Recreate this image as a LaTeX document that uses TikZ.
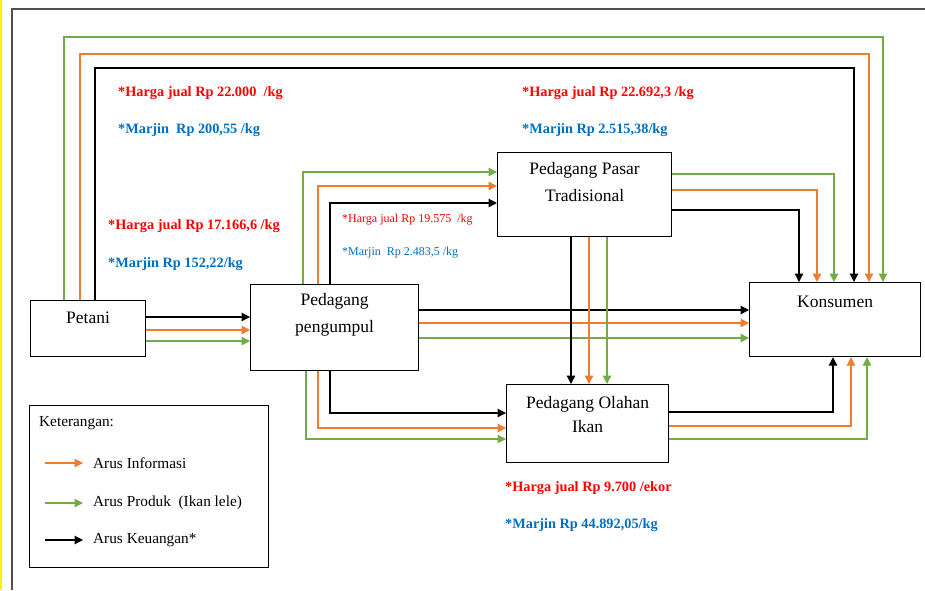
\documentclass[tikz,border=0pt]{standalone}
\usepackage{fontspec}
\setmainfont{Liberation Serif}
\usetikzlibrary{arrows.meta,calc}
\definecolor{lgreen}{RGB}{112,173,71}
\definecolor{lorange}{RGB}{237,125,49}
\definecolor{tred}{RGB}{255,0,0}
\definecolor{tblue}{RGB}{0,112,192}
\definecolor{framegray}{RGB}{80,80,80}
\begin{document}
\begin{tikzpicture}[x=1pt,y=-1pt,
  box/.style={draw=black, line width=1.2pt, anchor=north west, inner sep=0pt},
  boxlbl/.style={anchor=north, align=center, inner sep=0pt, font=\fontsize{17.5}{27}\selectfont},
  flow/.style={line width=1.2pt, -{Triangle[length=8.5pt,width=8.5pt]}},
  gflow/.style={flow, draw=lgreen},
  oflow/.style={flow, draw=lorange},
  kflow/.style={flow, draw=black},
  bigred/.style={anchor=west, inner sep=0pt, text=tred, font=\fontsize{14.3}{16}\selectfont\bfseries},
  bigblue/.style={anchor=west, inner sep=0pt, text=tblue, font=\fontsize{14.3}{16}\selectfont\bfseries},
  smallred/.style={anchor=west, inner sep=0pt, text=tred, font=\fontsize{12}{14}\selectfont},
  smallblue/.style={anchor=west, inner sep=0pt, text=tblue, font=\fontsize{12}{14}\selectfont},
  legtext/.style={anchor=west, inner sep=0pt, font=\fontsize{15.3}{18}\selectfont}
]
\useasboundingbox (0,0) rectangle (925,590);
\fill[white] (0,0) rectangle (925,590);
\fill[yellow] (0,0) rectangle (2,590);
\draw[framegray, line width=2pt] (12,590) -- (12,9) -- (925,9);

% boxes
\node[box, minimum width=115pt, minimum height=56pt] (petani) at (30,300) {};
\node[box, minimum width=168pt, minimum height=86pt] (pengumpul) at (250,284) {};
\node[box, minimum width=174pt, minimum height=84pt] (ppt) at (497,152) {};
\node[box, minimum width=171pt, minimum height=74pt] (kon) at (749,282) {};
\node[box, minimum width=162pt, minimum height=78pt] (olahan) at (506,384) {};
\node[box, minimum width=239pt, minimum height=162pt] (legend) at (29,405) {};

\node[boxlbl] (petanit) at ([yshift=-12pt]petani.north) {Petani};
\node[boxlbl] (pengumpult) at ([yshift=-9pt]pengumpul.north) {Pedagang\\pengumpul};
\node[boxlbl] (pptt) at ([yshift=-10pt]ppt.north) {Pedagang Pasar\\Tradisional};
\node[boxlbl] (kont) at ([yshift=-14pt]kon.north) {Konsumen};
\node[boxlbl, font=\fontsize{17.5}{24}\selectfont] (olahant) at ([yshift=-12pt]olahan.north) {Pedagang Olahan\\Ikan};

% top loops Petani -> Konsumen
\coordinate (pG) at ($(petani.north west)+(34,0)$);
\coordinate (pO) at ($(petani.north west)+(50,0)$);
\coordinate (pK) at ($(petani.north west)+(65,0)$);
\coordinate (kG) at ($(kon.north west)+(134,0)$);
\coordinate (kO) at ($(kon.north west)+(120,0)$);
\coordinate (kK) at ($(kon.north west)+(105,0)$);
\coordinate (yG) at (0,37);
\coordinate (yO) at (0,54);
\coordinate (yK) at (0,68);
\draw[gflow] (pG) -- (pG |- yG) -- (kG |- yG) -- (kG);
\draw[oflow] (pO) -- (pO |- yO) -- (kO |- yO) -- (kO);
\draw[kflow] (pK) -- (pK |- yK) -- (kK |- yK) -- (kK);

% Petani -> Pengumpul
\coordinate (a1) at ($(pengumpul.north west)+(0,33)$);
\coordinate (a2) at ($(pengumpul.north west)+(0,46)$);
\coordinate (a3) at ($(pengumpul.north west)+(0,57)$);
\draw[kflow] (petani.east |- a1) -- (a1);
\draw[oflow] (petani.east |- a2) -- (a2);
\draw[gflow] (petani.east |- a3) -- (a3);

% Pengumpul -> PPT
\draw[gflow] ($(pengumpul.north west)+(53,0)$) |- ($(ppt.north west)+(0,20)$);
\draw[oflow] ($(pengumpul.north west)+(68,0)$) |- ($(ppt.north west)+(0,34)$);
\draw[kflow] ($(pengumpul.north west)+(80,0)$) |- ($(ppt.north west)+(0,51)$);

% Pengumpul -> Konsumen
\coordinate (b1) at ($(kon.north west)+(0,28)$);
\coordinate (b2) at ($(kon.north west)+(0,41)$);
\coordinate (b3) at ($(kon.north west)+(0,56)$);
\draw[kflow] (pengumpul.east |- b1) -- (b1);
\draw[oflow] (pengumpul.east |- b2) -- (b2);
\draw[gflow] (pengumpul.east |- b3) -- (b3);

% Pengumpul -> Olahan
\draw[kflow] ($(pengumpul.south west)+(80,0)$) |- ($(olahan.north west)+(0,29)$);
\draw[oflow] ($(pengumpul.south west)+(68,0)$) |- ($(olahan.north west)+(0,44)$);
\draw[gflow] ($(pengumpul.south west)+(56,0)$) |- ($(olahan.north west)+(0,55)$);

% PPT -> Konsumen
\draw[gflow] ($(ppt.north east)+(0,22)$) -| ($(kon.north west)+(85,0)$);
\draw[oflow] ($(ppt.north east)+(0,38)$) -| ($(kon.north west)+(68,0)$);
\draw[kflow] ($(ppt.north east)+(0,58)$) -| ($(kon.north west)+(50,0)$);

% PPT -> Olahan
\coordinate (d1) at ($(ppt.south west)+(74,0)$);
\coordinate (d2) at ($(ppt.south west)+(92,0)$);
\coordinate (d3) at ($(ppt.south west)+(110,0)$);
\draw[kflow] (d1) -- (d1 |- olahan.north);
\draw[oflow] (d2) -- (d2 |- olahan.north);
\draw[gflow] (d3) -- (d3 |- olahan.north);

% Olahan -> Konsumen
\draw[kflow] ($(olahan.north east)+(0,28)$) -| ($(kon.south west)+(84,0)$);
\draw[oflow] ($(olahan.north east)+(0,42)$) -| ($(kon.south west)+(102,0)$);
\draw[gflow] ($(olahan.north east)+(0,55)$) -| ($(kon.south west)+(118,0)$);

% price labels
\node[bigred] (h1) at (118,93) {*Harga jual Rp 22.000~ /kg};
\node[bigblue] (m1) at (118,130) {*Marjin~ Rp 200,55 /kg};
\node[bigred] (h2) at (108,226) {*Harga jual Rp 17.166,6 /kg};
\node[bigblue] (m2) at (108,264) {*Marjin Rp 152,22/kg};
\node[smallred] (h3) at (342,220) {*Harga jual Rp 19.575~ /kg};
\node[smallblue] (m3) at (342,253) {*Marjin~ Rp 2.483,5 /kg};
\node[bigred] (h4) at (522,93) {*Harga jual Rp 22.692,3 /kg};
\node[bigblue] (m4) at (522,130) {*Marjin Rp 2.515,38/kg};
\node[bigred] (h5) at (505,488) {*Harga jual Rp 9.700 /ekor};
\node[bigblue] (m5) at (505,525) {*Marjin Rp 44.892,05/kg};

% legend
\node[legtext] (legt) at ($(legend.north west)+(10,18)$) {Keterangan:};
\coordinate (l1s) at ($(legend.north west)+(16,58)$);
\coordinate (l2s) at ($(legend.north west)+(16,98)$);
\coordinate (l3s) at ($(legend.north west)+(16,135)$);
\coordinate (l1e) at ($(l1s)+(38,0)$);
\coordinate (l2e) at ($(l2s)+(38,0)$);
\coordinate (l3e) at ($(l3s)+(38,0)$);
\draw[oflow] (l1s) -- (l1e);
\draw[gflow] (l2s) -- (l2e);
\draw[kflow] (l3s) -- (l3e);
\node[legtext] (leg1) at ($(l1e)+(10,0)$) {Arus Informasi};
\node[legtext] (leg2) at ($(l2e)+(10,0)$) {Arus Produk~ (Ikan lele)};
\node[legtext] (leg3) at ($(l3e)+(10,0)$) {Arus Keuangan*};
\end{tikzpicture}
\end{document}
